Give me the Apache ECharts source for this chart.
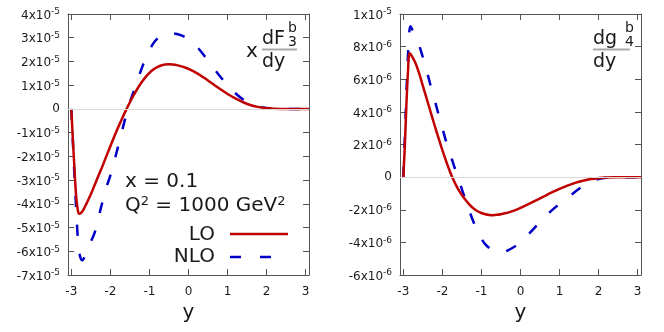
<!DOCTYPE html>
<html><head><meta charset="utf-8">
<script src="https://cdn.jsdelivr.net/npm/echarts@6/dist/echarts.min.js"></script>
<style>html,body{margin:0;padding:0;background:#fff}#c{width:664px;height:332px}</style>
</head><body><div id="c"></div>
<script>
// ---------- data ----------
const xTicks = [-3, -2, -1, 0, 1, 2, 3];
const yMin = -3.085, yMax = 3.085;

// left panel: x dF3^b/dy  (values in 1e-5)
const f3LoY = [-3.0,-2.96,-2.92,-2.88,-2.84,-2.80,-2.76,-2.70,-2.60,-2.50,-2.40,-2.30,-2.20,-2.10,-2.00,-1.90,-1.80,-1.70,-1.60,-1.50,-1.40,-1.30,-1.20,-1.10,-1.00,-0.90,-0.80,-0.70,-0.60,-0.50,-0.40,-0.30,-0.20,-0.10,0.0,0.2,0.4,0.6,0.8,1.0,1.2,1.4,1.6,1.8,2.0,2.2,2.5,3.085];
const f3LoV = [0,-1.3,-2.5,-3.6,-4.2,-4.42,-4.4,-4.28,-3.95,-3.6,-3.2,-2.8,-2.4,-1.98,-1.57,-1.16,-0.77,-0.40,-0.05,0.28,0.59,0.87,1.12,1.34,1.52,1.66,1.76,1.83,1.87,1.88,1.87,1.845,1.805,1.75,1.685,1.52,1.31,1.08,0.85,0.63,0.44,0.28,0.155,0.075,0.03,0.01,0,0];
const f3NloY = [-3.0,-2.96,-2.92,-2.88,-2.84,-2.80,-2.76,-2.72,-2.68,-2.60,-2.50,-2.40,-2.30,-2.20,-2.10,-2.00,-1.90,-1.80,-1.70,-1.60,-1.50,-1.40,-1.30,-1.20,-1.10,-1.00,-0.90,-0.80,-0.70,-0.60,-0.50,-0.40,-0.30,-0.20,-0.10,0.0,0.2,0.4,0.6,0.8,1.0,1.2,1.4,1.6,1.8,2.0,2.2,2.5,3.085];
const f3NloV = [0,-1.4,-2.8,-4.1,-5.3,-6.0,-6.3,-6.38,-6.3,-6.0,-5.6,-5.2,-4.55,-3.9,-3.3,-2.8,-2.2,-1.57,-0.92,-0.28,0.28,0.76,1.24,1.7,2.12,2.47,2.76,2.96,3.09,3.17,3.2,3.19,3.16,3.11,3.04,2.95,2.65,2.25,1.82,1.39,0.99,0.66,0.4,0.22,0.1,0.04,0.01,0,0];

// right panel: dg4^b/dy  (values in 1e-6)
const g4LoY = [-3.0,-2.96,-2.92,-2.88,-2.84,-2.80,-2.70,-2.60,-2.50,-2.40,-2.30,-2.20,-2.10,-2.00,-1.90,-1.80,-1.70,-1.60,-1.50,-1.40,-1.30,-1.20,-1.10,-1.00,-0.90,-0.80,-0.70,-0.60,-0.50,-0.40,-0.30,-0.20,-0.10,0.0,0.2,0.4,0.6,0.8,1.0,1.2,1.4,1.6,1.8,2.0,2.2,2.4,3.085];
const g4LoV = [0,2.0,4.5,6.5,7.6,7.5,7.05,6.4,5.6,4.8,3.98,3.18,2.4,1.65,0.95,0.3,-0.25,-0.72,-1.1,-1.42,-1.7,-1.92,-2.09,-2.2,-2.28,-2.32,-2.33,-2.31,-2.27,-2.22,-2.16,-2.08,-1.99,-1.89,-1.66,-1.42,-1.18,-0.94,-0.72,-0.52,-0.35,-0.22,-0.12,-0.06,-0.02,0,0];
const g4NloY = [-3.0,-2.96,-2.92,-2.88,-2.85,-2.82,-2.78,-2.70,-2.60,-2.50,-2.40,-2.30,-2.20,-2.10,-2.00,-1.90,-1.80,-1.70,-1.60,-1.50,-1.40,-1.30,-1.20,-1.10,-1.00,-0.90,-0.80,-0.70,-0.60,-0.50,-0.40,-0.30,-0.20,-0.10,0.0,0.2,0.4,0.6,0.8,1.0,1.2,1.4,1.6,1.8,2.0,2.2,2.4,2.6,3.085];
const g4NloV = [0,2.5,5.2,7.5,8.8,9.25,9.1,8.6,8.1,7.35,6.5,5.6,4.75,3.85,3.0,2.15,1.4,0.68,-0.03,-0.75,-1.45,-2.13,-2.77,-3.33,-3.78,-4.12,-4.35,-4.5,-4.58,-4.6,-4.56,-4.46,-4.33,-4.18,-3.98,-3.52,-3.0,-2.5,-2.04,-1.65,-1.27,-0.9,-0.55,-0.28,-0.12,-0.04,-0.01,0,0];

const leftExp = -5, rightExp = -6;

// ---------- chart ----------
const FONT = 'DejaVu Sans';
const AX = '#555';
const RED = '#c00000', BLUE = '#0000c8';
const zip = (xs, vs, e) => xs.map((x, i) => [x, vs[i] * Math.pow(10, e)]);

function sciFmt(e) {
  return v => {
    let m = Math.round(v / Math.pow(10, e));
    let ex = e;
    if (m === 0) return '0';
    while (m % 10 === 0) { m = m / 10; ex += 1; }
    return '{m|' + m + 'x10}{s|' + ex + '}';
  };
}
const rich = {
  m: {fontSize: 12, fontFamily: FONT, color: '#1a1a1a', padding: [3, 0, 0, 0]},
  s: {fontSize: 9, fontFamily: FONT, color: '#1a1a1a', padding: [0, 0, 4, 0]}
};

function xAxes(gi) {
  return [{
    gridIndex: gi, type: 'value', min: yMin, max: yMax, position: 'bottom',
    axisLine: {show: true, onZero: false, lineStyle: {color: AX, width: 1}},
    axisTick: {show: true, inside: true, length: 6, customValues: xTicks, lineStyle: {color: AX}},
    axisLabel: {show: true, customValues: xTicks, margin: 11, fontSize: 12, fontFamily: FONT, color: '#1a1a1a'},
    splitLine: {show: false},
    name: 'y', nameLocation: 'middle', nameGap: 28,
    nameTextStyle: {fontSize: 20, fontFamily: FONT, color: '#1a1a1a'}
  }, {
    gridIndex: gi, type: 'value', min: yMin, max: yMax, position: 'top',
    axisLine: {show: true, onZero: false, lineStyle: {color: AX, width: 1}},
    axisTick: {show: true, inside: true, length: 6, customValues: xTicks, lineStyle: {color: AX}},
    axisLabel: {show: false}, splitLine: {show: false}
  }];
}
function yAxes(gi, min, max, e) {
  const iv = Math.pow(10, e) * (e === -5 ? 1 : 2);
  return [{
    gridIndex: gi, type: 'value', min: min, max: max, interval: iv, position: 'left',
    axisLine: {show: true, onZero: false, lineStyle: {color: AX, width: 1}},
    axisTick: {show: true, inside: true, length: 6, lineStyle: {color: AX}},
    axisLabel: {show: true, margin: 8, fontSize: 12, fontFamily: FONT, color: '#1a1a1a', formatter: sciFmt(e), rich: rich},
    splitLine: {show: false}
  }, {
    gridIndex: gi, type: 'value', min: min, max: max, interval: iv, position: 'right',
    axisLine: {show: true, onZero: false, lineStyle: {color: AX, width: 1}},
    axisTick: {show: true, inside: true, length: 6, lineStyle: {color: AX}},
    axisLabel: {show: false}, splitLine: {show: false}
  }];
}

function zeroLine(xi, yi) {
  return {type: 'line', xAxisIndex: xi, yAxisIndex: yi, data: [], silent: true, z: 1,
    markLine: {silent: true, symbol: ['none', 'none'], label: {show: false}, animation: false,
      lineStyle: {color: '#d8d8d8', type: 'solid', width: 1}, data: [{yAxis: 0}]}};
}
function curve(xi, yi, data, color, dashed) {
  return {type: 'line', xAxisIndex: xi, yAxisIndex: yi, data: data, showSymbol: false, symbol: 'none',
    smooth: 0.35, z: dashed ? 3 : 4, animation: false,
    lineStyle: {color: color, width: 2.5, type: dashed ? [11, 18] : 'solid', cap: 'butt', join: 'round'}};
}

const t = (text, x, y, size, align) => ({
  type: 'text', x: x, y: y, style: {text: text, fontSize: size, fontFamily: FONT, fill: '#1a1a1a',
    align: align || 'left', verticalAlign: 'middle'}});
const sup = {s: {fontSize: 13, fontFamily: FONT, fill: '#1a1a1a', padding: [0, 0, 9, 0]},
             n: {fontSize: 20, fontFamily: FONT, fill: '#1a1a1a'}};

const chart = echarts.init(document.getElementById('c'), null, {renderer: 'canvas'});
chart.setOption({
  animation: false,
  backgroundColor: '#fff',
  grid: [
    {left: 68, top: 14, width: 241, height: 261},
    {left: 400, top: 14, width: 241, height: 261}
  ],
  xAxis: xAxes(0).concat(xAxes(1)),
  yAxis: yAxes(0, -7e-5, 4e-5, leftExp).concat(yAxes(1, -6e-6, 1e-5, rightExp)),
  series: [
    zeroLine(0, 0), zeroLine(2, 2),
    curve(0, 0, zip(f3NloY, f3NloV, leftExp), BLUE, true),
    curve(0, 0, zip(f3LoY, f3LoV, leftExp), RED, false),
    curve(2, 2, zip(g4NloY, g4NloV, rightExp), BLUE, true),
    curve(2, 2, zip(g4LoY, g4LoV, rightExp), RED, false)
  ],
  graphic: [
    t('x', 246, 52, 20),
    t('dF', 262, 39, 19),
    t('b', 288, 28, 14),
    t('3', 288, 42, 14),
    {type: 'line', shape: {x1: 262, y1: 49.5, x2: 297, y2: 49.5}, style: {stroke: '#aaaaaa', lineWidth: 2}},
    t('dy', 262, 62, 19),
    t('dg', 593, 39, 19),
    t('b', 625, 28, 14),
    t('4', 625, 42, 14),
    {type: 'line', shape: {x1: 593, y1: 49.5, x2: 630, y2: 49.5}, style: {stroke: '#aaaaaa', lineWidth: 2}},
    t('dy', 593, 62, 19),
    t('x = 0.1', 125, 182, 20),
    {type: 'text', x: 125, y: 206, style: {text: '{n|Q}{s|2}{n| = 1000 GeV}{s|2}', rich: sup, fontSize: 20,
      fontFamily: FONT, fill: '#1a1a1a', align: 'left', verticalAlign: 'middle'}},
    t('LO', 215, 235, 20, 'right'),
    {type: 'line', shape: {x1: 230, y1: 234, x2: 288, y2: 234}, style: {stroke: RED, lineWidth: 2.5}},
    t('NLO', 215, 257, 20, 'right'),
    {type: 'line', shape: {x1: 230, y1: 257, x2: 290, y2: 257}, style: {stroke: BLUE, lineWidth: 2.5, lineDash: [11, 19]}}
  ]
});
</script></body></html>
